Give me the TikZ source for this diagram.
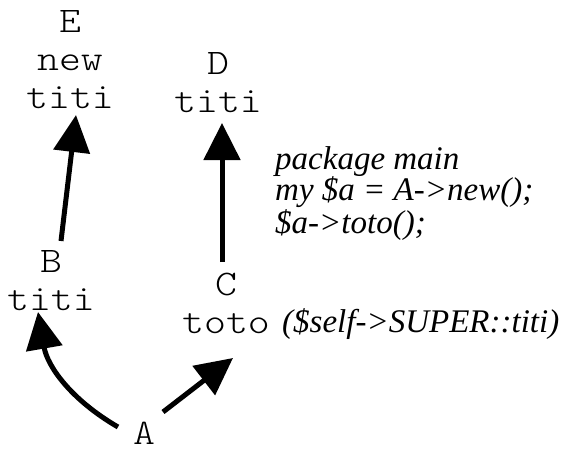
\documentclass[tikz,border=0pt]{standalone}
\usepackage{fontspec}
\setmainfont{Liberation Serif}
\setmonofont[FakeStretch=1.16]{Latin Modern Mono Light}
\usetikzlibrary{arrows.meta}
\begin{document}
\begin{tikzpicture}[x=1pt,y=-1pt,
  cls/.style={font=\ttfamily\fontsize{36}{38}\selectfont, align=center, inner sep=0pt, outer sep=0pt, anchor=base},
  note/.style={font=\itshape\fontsize{33}{29}\selectfont, align=left, inner sep=0pt, anchor=base west},
  link/.style={line width=5pt, -{Triangle[length=37pt,width=36pt]}}]
\useasboundingbox (0,0) rectangle (565,448);
\node[cls] (E) at (70,108) {E\\new\\titi};
\node[cls] (D) at (218,112) {D\\titi};
\node[cls] (B) at (51,310) {B\\titi};
\node[cls] (C) at (226,333) {C\\toto};
\node[cls] (A) at (144,444) {A};
\node[note] (code) at (275,233) {package main\\my \$a = A->new();\\\$a->toto();};
\node[note] (super) at (282,332) {(\$self->SUPER::titi)};
\draw[link] ([shift={(10,-69)}]B.base) -- ([shift={(6,7)}]E.base);
\draw[link] ([shift={(-4,-71)}]C.base) -- ([shift={(4,11)}]D.base);
\draw[link] ([shift={(-26,-17)}]A.base) to[bend left=25] ([shift={(-13,2)}]B.base);
\draw[link] ([shift={(19,-32)}]A.base) -- ([shift={(7,25)}]C.base);
\end{tikzpicture}
\end{document}
